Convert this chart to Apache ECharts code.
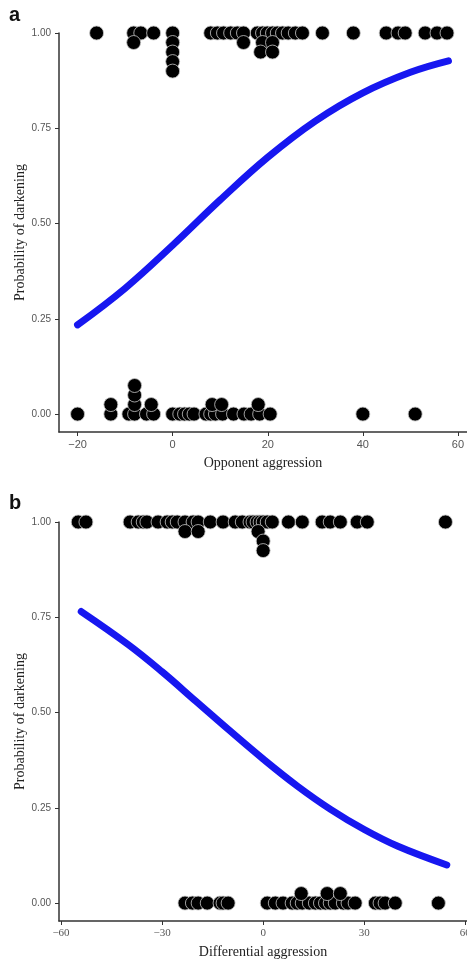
<!DOCTYPE html>
<html><head><meta charset="utf-8">
<script src="https://cdn.jsdelivr.net/npm/echarts@6/dist/echarts.min.js"></script>
<style>html,body{margin:0;padding:0;background:#fff;}#c{width:467px;height:960px;}</style>
</head><body><div id="c"></div>
<script>
// Panel a: Opponent aggression — points stacked by level
var aTop100 = [-16.0, -8.2, -6.7, -4.0, 0, 8.0, 9.4, 10.7, 12.2, 13.6, 14.9, 17.8, 18.9, 19.9, 21.0, 22.0, 23.1, 24.3, 25.8, 27.3, 31.5, 38.0, 44.9, 47.4, 48.9, 53.1, 55.6, 57.7];
var aTop975 = [-8.2, 0, 14.9, 18.9, 21.0];
var aTop950 = [0, 18.5, 21.0];
var aTop925 = [0];
var aTop900 = [0];
var aBot000 = [-20, -13, -9.2, -8, -5.5, -4, 0, 1.5, 2.5, 3.5, 4.5, 7, 8, 9, 10.5, 12.8, 15, 16.5, 18.3, 20.5, 40, 51];
var aBot025 = [-13, -8, -4.5, 8.3, 10.3, 18];
var aBot050 = [-8];
var aBot075 = [-8];
var aCurveX = [-20, -10, 0, 10, 20, 30, 40, 50, 58];
var aCurveY = [0.234, 0.330, 0.443, 0.562, 0.674, 0.769, 0.843, 0.897, 0.927];
var aTicks = [-20, 0, 20, 40, 60];

// Panel b: Differential aggression
var bTop100 = [-54.9, -52.6, -39.5, -37.1, -35.6, -34.5, -31.2, -28.5, -27.0, -25.5, -23.2, -20.8, -19.3, -15.7, -11.9, -8.3, -6.2, -3.9, -3.0, -1.8, -0.9, 0, 1.2, 2.7, 7.5, 11.6, 17.5, 19.9, 22.9, 27.9, 30.9, 54.1];
var bTop975 = [-23.2, -19.3, -1.5];
var bTop950 = [0];
var bTop925 = [0];
var bBot000 = [-23.2, -21, -19.3, -16.6, -12.8, -11.9, -10.4, 1.2, 3.6, 5.9, 8.6, 10.1, 11.6, 13.7, 15.5, 17.0, 18.5, 19.9, 21.4, 23.8, 25.2, 27.3, 33.3, 34.7, 36.2, 39.2, 52.0];
var bBot025 = [11.3, 19.0, 22.9];
var bCurveX = [-54, -40, -30, -20, -10, 0, 10, 20, 30, 40, 54.5];
var bCurveY = [0.765, 0.678, 0.607, 0.530, 0.453, 0.378, 0.308, 0.246, 0.193, 0.149, 0.100];
var bTicks = [-60, -30, 0, 30, 60];

var yTicks = [0, 0.25, 0.5, 0.75, 1];

function pts(xs, y) { return xs.map(function (x) { return [x, y]; }); }
function pairs(xs, ys) { return xs.map(function (x, i) { return [x, ys[i]]; }); }

var axisCol = '#333';
var tickFont = "'Liberation Sans',Arial,sans-serif";
var titleFont = "'Liberation Serif','DejaVu Serif',serif";

function xAx(idx, min, max, ticks, name, labFont) {
  return {
    type: 'value', gridIndex: idx, min: min, max: max,
    name: name, nameLocation: 'middle', nameGap: 24,
    nameTextStyle: { fontFamily: titleFont, fontSize: 14, color: '#222' },
    axisLine: { show: true, onZero: false, lineStyle: { color: axisCol, width: 1.5 } },
    axisTick: { show: true, length: 4, customValues: ticks, lineStyle: { color: axisCol, width: 1 } },
    axisLabel: { customValues: ticks, margin: 7, fontFamily: labFont, fontSize: 11, color: '#555',
      hideOverlap: false,
      formatter: function (v) { return String(v).replace('-', '\u2212'); } },
    splitLine: { show: false }
  };
}
function yAx(idx) {
  return {
    type: 'value', gridIndex: idx, min: -0.047, max: 1.0,
    name: 'Probability of darkening', nameLocation: 'middle', nameGap: 32, nameMoveOverlap: false,
    nameTextStyle: { fontFamily: titleFont, fontSize: 14, color: '#222' },
    axisLine: { show: true, onZero: false, lineStyle: { color: axisCol, width: 1.5 } },
    axisTick: { show: true, length: 4, customValues: yTicks, lineStyle: { color: axisCol, width: 1 } },
    axisLabel: { customValues: yTicks, margin: 8, fontFamily: tickFont, fontSize: 10, color: '#555',
      formatter: function (v) { return v.toFixed(2); } },
    splitLine: { show: false }
  };
}
function sc(data, xi) {
  return {
    type: 'scatter', xAxisIndex: xi, yAxisIndex: xi, data: data, clip: false,
    symbolSize: 14, z: 2,
    itemStyle: { color: '#000', borderColor: '#c8c8c8', borderWidth: 0.8, opacity: 1 },
    emphasis: { disabled: true }
  };
}
function curve(data, xi) {
  return {
    type: 'line', xAxisIndex: xi, yAxisIndex: xi, data: data, smooth: 0.4,
    showSymbol: false, z: 3, clip: false,
    lineStyle: { color: '#1717f0', width: 7, cap: 'round', join: 'round' },
    emphasis: { disabled: true }
  };
}

var chart = echarts.init(document.getElementById('c'), null, { renderer: 'canvas' });
chart.setOption({
  animation: false,
  backgroundColor: '#fff',
  grid: [
    { left: 59, top: 33, width: 408, height: 399, outerBoundsMode: 'none', containLabel: false },
    { left: 59, top: 522, width: 408, height: 399, outerBoundsMode: 'none', containLabel: false }
  ],
  xAxis: [
    xAx(0, -23.9, 61.9, aTicks, 'Opponent aggression', tickFont),
    xAx(1, -60.6, 60.5, bTicks, 'Differential aggression', titleFont)
  ],
  yAxis: [yAx(0), yAx(1)],
  graphic: [
    { type: 'text', left: 9, top: 5, style: { text: 'a', font: 'bold 20px "Liberation Sans", Arial, sans-serif', fill: '#111' } },
    { type: 'text', left: 9, top: 493, style: { text: 'b', font: 'bold 20px "Liberation Sans", Arial, sans-serif', fill: '#111' } }
  ],
  series: [
    sc(pts(aTop100, 1.0), 0), sc(pts(aTop975, 0.975), 0), sc(pts(aTop950, 0.95), 0),
    sc(pts(aTop925, 0.925), 0), sc(pts(aTop900, 0.90), 0),
    sc(pts(aBot000, 0), 0), sc(pts(aBot025, 0.025), 0), sc(pts(aBot050, 0.05), 0), sc(pts(aBot075, 0.075), 0),
    curve(pairs(aCurveX, aCurveY), 0),
    sc(pts(bTop100, 1.0), 1), sc(pts(bTop975, 0.975), 1), sc(pts(bTop950, 0.95), 1), sc(pts(bTop925, 0.925), 1),
    sc(pts(bBot000, 0), 1), sc(pts(bBot025, 0.025), 1),
    curve(pairs(bCurveX, bCurveY), 1)
  ]
});
</script>
</body></html>
